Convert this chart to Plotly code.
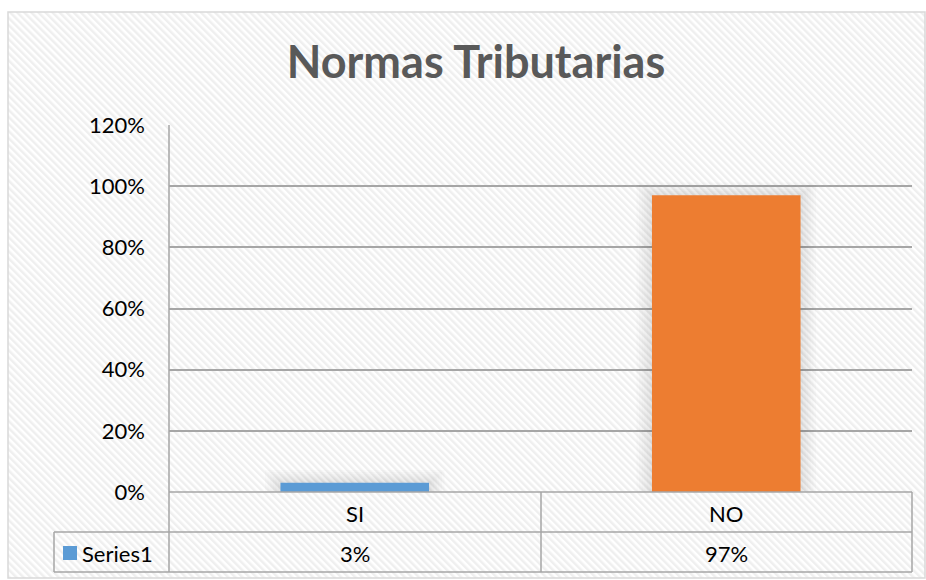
"""Normas Tributarias - Excel-style column chart with data table."""

import base64

import plotly.graph_objects as go

categories = ["SI", "NO"]
values = [0.03, 0.97]
series_name = "Series1"
bar_colors = ["#5B9BD5", "#ED7D31"]
y_ticks = [0, 0.2, 0.4, 0.6, 0.8, 1.0, 1.2]

W, H = 926, 580


def px(x):
    return x / W


def py(y):
    return 1 - y / H


GRID = "#A6A6A6"
FONT = "Lato, 'Open Sans', sans-serif"

stripes = (
    "<svg xmlns='http://www.w3.org/2000/svg' width='918' height='566'>"
    "<defs><pattern id='p' width='5' height='5' patternUnits='userSpaceOnUse' "
    "patternTransform='rotate(-45)'><rect width='2.5' height='5' fill='#efefef'/></pattern></defs>"
    "<rect width='100%' height='100%' fill='#ffffff'/>"
    "<rect width='100%' height='100%' fill='url(#p)'/></svg>"
)
bg_src = "data:image/svg+xml;base64," + base64.b64encode(stripes.encode()).decode()

fig = go.Figure()
# soft glow behind the columns (Excel shadow effect)
for k in range(6, 0, -1):
    fig.add_trace(
        go.Bar(
            x=categories,
            y=[v + 0.007 * k for v in values],
            marker=dict(color="rgba(0,0,0,0.016)", line=dict(width=0)),
            width=0.4 + 0.014 * k,
            hoverinfo="skip",
            showlegend=False,
        )
    )
fig.add_trace(
    go.Bar(
        x=categories,
        y=values,
        marker=dict(color=bar_colors, line=dict(width=0)),
        width=0.4,
        name=series_name,
        showlegend=False,
    )
)

shapes = []
# data table lines
x0, x1, xm, xl = 169, 912, 541, 54
y_axis, y_row, y_bot = 492, 532, 572
line = dict(color=GRID, width=1.5)
for (a, b, c, d) in [
    (x0, 125, x0, y_bot),
    (x1, y_axis, x1, y_bot),
    (xm, y_axis, xm, y_bot),
    (xl, y_row, xl, y_bot),
    (xl, y_row, x1, y_row),
    (xl, y_bot, x1, y_bot),
    (x0, y_axis, x1, y_axis),
]:
    shapes.append(dict(type="line", xref="paper", yref="paper",
                       x0=px(a), y0=py(b), x1=px(c), y1=py(d), line=line, layer="above"))
# chart border
shapes.append(dict(type="rect", xref="paper", yref="paper",
                   x0=px(8), y0=py(578), x1=px(925), y1=py(12),
                   line=dict(color="#D9D9D9", width=1.5)))
# legend key
shapes.append(dict(type="rect", xref="paper", yref="paper",
                   x0=px(63), y0=py(560), x1=px(77), y1=py(546),
                   fillcolor=bar_colors[0], line=dict(width=0)))

annotations = []
for cat, val in zip(categories, values):
    annotations.append(dict(x=cat, xref="x", y=py(513), yref="paper", yanchor="middle",
                            text=cat, showarrow=False, font=dict(size=22, color="#000000")))
    annotations.append(dict(x=cat, xref="x", y=py(553), yref="paper", yanchor="middle",
                            text=f"{val:.0%}", showarrow=False,
                            font=dict(size=22, color="#000000")))
annotations.append(dict(x=px(80), y=py(553), xref="paper", yref="paper", xanchor="left",
                        yanchor="middle", text=series_name, showarrow=False,
                        font=dict(size=22, color="#000000")))

fig.update_layout(
    width=W,
    height=H,
    margin=dict(l=0, r=0, t=0, b=0, pad=0),
    paper_bgcolor="#ffffff",
    plot_bgcolor="rgba(0,0,0,0)",
    font=dict(family=FONT, color="#000000"),
    title=dict(text="<b>Normas Tributarias</b>", x=px(476), xanchor="center",
               y=py(62), yanchor="middle",
               font=dict(size=45, color="#595959", family=FONT)),
    xaxis=dict(domain=[px(169), px(912)], showticklabels=False, showgrid=False,
               zeroline=False, showline=False, ticks="", automargin=False),
    yaxis=dict(domain=[py(492), py(125)], range=[0, 1.2], tickvals=y_ticks,
               tickformat=".0%", showgrid=True, gridcolor=GRID, gridwidth=1.5,
               zeroline=False, showline=False, ticks="", ticklabelstandoff=23,
               automargin=False, tickfont=dict(size=22, color="#000000")),
    barmode="overlay",
    shapes=shapes,
    annotations=annotations,
    images=[dict(source=bg_src, xref="paper", yref="paper", x=px(8), y=py(12),
                 sizex=px(917), sizey=(578 - 12) / H, sizing="stretch",
                 xanchor="left", yanchor="top", layer="below")],
    showlegend=False,
)

fig.write_html(
    "out.html",
    config={"displayModeBar": False},
    post_script="document.body.style.margin='0';document.body.style.overflow='hidden';",
)
